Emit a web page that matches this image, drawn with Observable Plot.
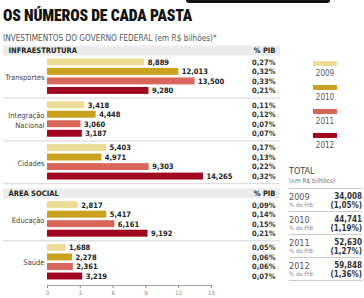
<!DOCTYPE html>
<html>
<head>
<meta charset="utf-8">
<script src="https://cdn.jsdelivr.net/npm/d3@7"></script>
<script src="https://cdn.jsdelivr.net/npm/@observablehq/plot@0.6"></script>
<style>
  body { margin: 0; background: #fff; }
  #fig { position: relative; width: 364px; height: 298px; overflow: hidden; background: #fff;
         font-family: "DejaVu Sans Condensed", "DejaVu Sans", sans-serif; font-stretch: condensed; }
  #topbar { position: absolute; left: 186px; top: -3px; width: 144px; height: 6px; background: #111; border-radius: 3px; z-index: 2; }
  #title { position: absolute; left: 3px; top: 5px; white-space: nowrap; transform-origin: 0 0;
           font-family: Roboto, "DejaVu Sans", sans-serif; font-weight: 900; font-size: 17px; color: #111; letter-spacing: -0.2px; }
  #subtitle { position: absolute; left: 3px; top: 33px; white-space: nowrap; font-size: 8.2px; color: #555; }
  #chart { position: absolute; left: 0; top: 44px; }
  #legend { position: absolute; left: 313px; top: 61px; width: 26px; }
  .lg-item { height: 24px; }
  .lg-sw { width: 24px; height: 5px; }
  .lg-lab { font-size: 8px; color: #555; text-align: center; width: 24px; margin-top: 3px; font-stretch: normal; }
  #totals { position: absolute; left: 289px; top: 166px; width: 73px; color: #555; }
  #totals .hd1 { font-size: 9px; color: #444; }
  #totals .hd2 { font-size: 6.5px; color: #777; margin-top: 1px; padding-bottom: 3px; border-bottom: 1px solid #ccc; }
  .trow { position: relative; height: 22px; border-bottom: 1px solid #ccc; }
  .trow .yr { position: absolute; left: 0; top: 3px; font-size: 9px; color: #555; }
  .trow .pl { position: absolute; left: 0; top: 12px; font-size: 6px; color: #888; }
  .trow .tv { position: absolute; right: 0; top: 3px; font-size: 8px; font-weight: bold; color: #333; }
  .trow .tp { position: absolute; right: 0; top: 12px; font-size: 8px; font-weight: bold; color: #333; }
</style>
</head>
<body>
<div id="fig">
  <div id="topbar"></div>
  <div id="title">OS NÚMEROS DE CADA PASTA</div>
  <div id="subtitle">INVESTIMENTOS DO GOVERNO FEDERAL (em R$ bilhões)*</div>
  <div id="chart"></div>
  <div id="legend"></div>
  <div id="totals"></div>
</div>
<script>
// Investment per ministry area, R$ billions, 2009–2012
const years = [2009, 2010, 2011, 2012];
const yearColors = ["#ecdc97", "#c9a11f", "#d9665a", "#a0061f"];
const sections = ["INFRAESTRUTURA", "ÁREA SOCIAL"];
const groups = ["Transportes", "Integração\nNacional", "Cidades", "Educação", "Saúde"];
const groupSection = [0, 0, 0, 1, 1];

const transportes = [8.889, 12.013, 13.500, 9.280];
const integracao  = [3.418, 4.448, 3.060, 3.187];
const cidades     = [5.403, 4.971, 9.303, 14.265];
const educacao    = [2.817, 5.417, 6.161, 9.192];
const saude       = [1.688, 2.278, 2.361, 3.219];

// share of GDP (%)
const pibTransportes = [0.27, 0.32, 0.33, 0.21];
const pibIntegracao  = [0.11, 0.12, 0.07, 0.07];
const pibCidades     = [0.17, 0.13, 0.22, 0.32];
const pibEducacao    = [0.09, 0.14, 0.15, 0.21];
const pibSaude       = [0.05, 0.06, 0.06, 0.07];

const totals    = [34.008, 44.741, 52.630, 59.848];
const totalsPib = [1.05, 1.19, 1.27, 1.36];

const xTicks = [0, 3, 6, 9, 12, 15];

const values = [transportes, integracao, cidades, educacao, saude];
const pibs = [pibTransportes, pibIntegracao, pibCidades, pibEducacao, pibSaude];

const fmtNum = v => v.toFixed(3).replace(".", ",");
const fmtPct = v => v.toFixed(2).replace(".", ",") + "%";

// vertical layout in row units: each bar takes 2 units, groups separated by 3
const rows = [], headers = [], labels = [], seps = [];
let cursor = 0;
sections.forEach((name, si) => {
  if (si > 0) cursor += 0.5;
  headers.push({name, pos: cursor});
  cursor += 2.5;
  groups.forEach((g, gi) => {
    if (groupSection[gi] !== si) return;
    years.forEach((year, k) => rows.push({group: g, year, value: values[gi][k], pib: pibs[gi][k], pos: cursor + 2 * k}));
    labels.push({name: g, pos: cursor + 3});
    if (gi < groups.length - 1) seps.push({pos: cursor + 7.5});
    cursor += 9;
  });
});
const lastPos = d3.max(rows, d => d.pos);

const chart = Plot.plot({
  width: 282,
  height: 254,
  marginLeft: 3,
  marginRight: 2,
  marginTop: 0,
  marginBottom: 13,
  style: {fontFamily: '"DejaVu Sans Condensed", "DejaVu Sans", sans-serif', fontSize: "8px", background: "transparent"},
  x: {domain: [0, 15], range: [47, 211]},
  y: {domain: [0, lastPos], range: [6, 232], axis: null},
  color: {type: "ordinal", domain: years, range: yearColors},
  marks: [
    Plot.ruleY(headers, {y: "pos", stroke: "#ececec", strokeWidth: 10}),
    Plot.ruleY(seps, {y: "pos", stroke: "#d4d4d4", strokeWidth: 1}),
    Plot.text(headers, {y: "pos", text: "name", frameAnchor: "left", textAnchor: "start", dx: 5, fontWeight: "bold", fontSize: 7.5, fill: "#222"}),
    Plot.text(headers, {y: "pos", text: () => "% PIB", frameAnchor: "right", textAnchor: "end", dx: -5, fontWeight: "bold", fontSize: 7.5, fill: "#222"}),
    Plot.rect(rows, {x1: 0, x2: "value", y1: d => d.pos - 1, y2: d => d.pos + 1, insetTop: 1.3, insetBottom: 1.3, fill: "year"}),
    Plot.text(rows, {x: "value", y: "pos", text: d => fmtNum(d.value), textAnchor: "start", dx: 3, fontWeight: "bold", fontSize: 7.5, fill: "#222"}),
    Plot.text(rows, {y: "pos", text: d => fmtPct(d.pib), frameAnchor: "right", textAnchor: "end", dx: -5, fontWeight: "bold", fontSize: 7.5, fill: "#333"}),
    Plot.text(labels, {x: () => 0, y: "pos", text: "name", textAnchor: "end", dx: -3, fontSize: 7.5, fill: "#444", lineHeight: 1.35}),
    Plot.frame({anchor: "bottom", stroke: "#aaa", insetLeft: 44, insetRight: 69}),
    Plot.axisX({ticks: xTicks, tickSize: 3, tickPadding: 2, fontSize: 6, color: "#888", label: null})
  ]
});
document.getElementById("chart").appendChild(chart);

// fit title width
const title = document.getElementById("title");
const tw = title.getBoundingClientRect().width;
title.style.transform = `scaleX(${189 / tw})`;

// legend
const legend = d3.select("#legend");
years.forEach((y, i) => {
  const item = legend.append("div").attr("class", "lg-item");
  item.append("div").attr("class", "lg-sw").style("background", yearColors[i]);
  item.append("div").attr("class", "lg-lab").text(y);
});

// totals box
const tbox = d3.select("#totals");
tbox.append("div").attr("class", "hd1").text("TOTAL");
tbox.append("div").attr("class", "hd2").text("(em R$ bilhões)");
years.forEach((y, i) => {
  const r = tbox.append("div").attr("class", "trow");
  r.append("div").attr("class", "yr").text(y);
  r.append("div").attr("class", "pl").text("% do PIB");
  r.append("div").attr("class", "tv").text(fmtNum(totals[i]));
  r.append("div").attr("class", "tp").text("(" + totalsPib[i].toFixed(2).replace(".", ",") + "%)");
});
</script>
</body>
</html>
